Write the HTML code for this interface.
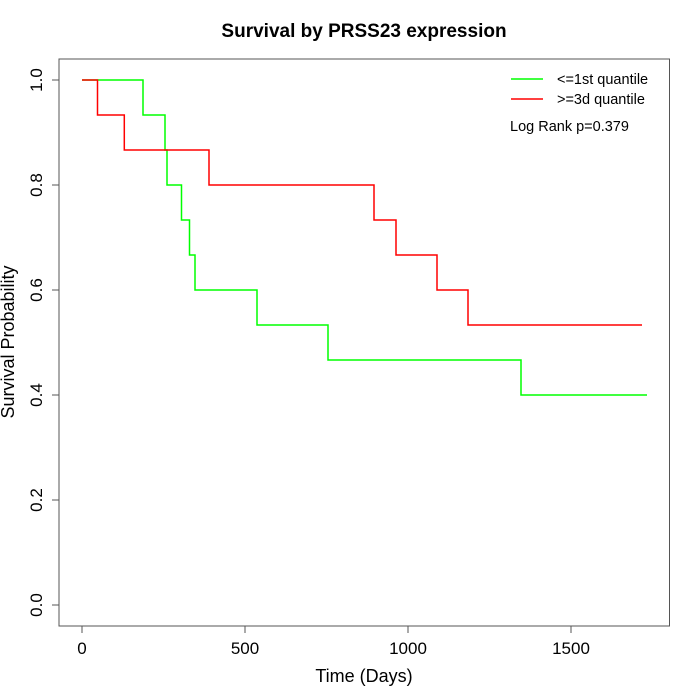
<!DOCTYPE html>
<html><head><meta charset="utf-8"><style>body{margin:0;background:#fff}svg{display:block}text{font-family:"Liberation Sans",Arial,sans-serif;fill:#000}</style></head>
<body>
<svg width="700" height="700" viewBox="0 0 700 700" xmlns="http://www.w3.org/2000/svg">
<text x="364" y="37" font-size="19" font-weight="bold" text-anchor="middle">Survival by PRSS23 expression</text>
<rect x="59" y="59" width="610.5" height="567" fill="none" stroke="#555" stroke-width="1"/>
<g stroke="#555" stroke-width="1">
<line x1="82" y1="626" x2="82" y2="633"/><line x1="245" y1="626" x2="245" y2="633"/><line x1="408" y1="626" x2="408" y2="633"/><line x1="571" y1="626" x2="571" y2="633"/>
<line x1="52" y1="80" x2="59" y2="80"/><line x1="52" y1="185" x2="59" y2="185"/><line x1="52" y1="290" x2="59" y2="290"/><line x1="52" y1="395" x2="59" y2="395"/><line x1="52" y1="500" x2="59" y2="500"/><line x1="52" y1="605" x2="59" y2="605"/>
</g>
<g font-size="17" text-anchor="middle">
<text x="82" y="654">0</text><text x="245" y="654">500</text><text x="408" y="654">1000</text><text x="571" y="654">1500</text>
<text x="364" y="682" font-size="18">Time (Days)</text>
</g>
<g font-size="17" text-anchor="middle">
<text transform="translate(42,80) rotate(-90)">1.0</text>
<text transform="translate(42,185) rotate(-90)">0.8</text>
<text transform="translate(42,290) rotate(-90)">0.6</text>
<text transform="translate(42,395) rotate(-90)">0.4</text>
<text transform="translate(42,500) rotate(-90)">0.2</text>
<text transform="translate(42,605) rotate(-90)">0.0</text>
<text transform="translate(14,342) rotate(-90)" font-size="18">Survival Probability</text>
</g>
<polyline fill="none" stroke="#00ff00" stroke-width="1.5" points="82,80 143,80 143,115 165,115 165,150 167,150 167,185 181.5,185 181.5,220 189.5,220 189.5,255 195,255 195,290 257,290 257,325 328,325 328,360 521,360 521,395 647,395"/>
<polyline fill="none" stroke="#ff0000" stroke-width="1.5" points="82,80 97.5,80 97.5,115 124.3,115 124.3,150 209,150 209,185 374,185 374,220 396,220 396,255 437,255 437,290 468,290 468,325 642,325"/>
<line x1="511" y1="79" x2="543" y2="79" stroke="#00ff00" stroke-width="1.5"/>
<line x1="511" y1="99" x2="543" y2="99" stroke="#ff0000" stroke-width="1.5"/>
<g font-size="14.5">
<text x="557" y="84">&lt;=1st quantile</text>
<text x="557" y="104">&gt;=3d quantile</text>
<text x="510" y="131">Log Rank p=0.379</text>
</g>
</svg>
</body></html>
